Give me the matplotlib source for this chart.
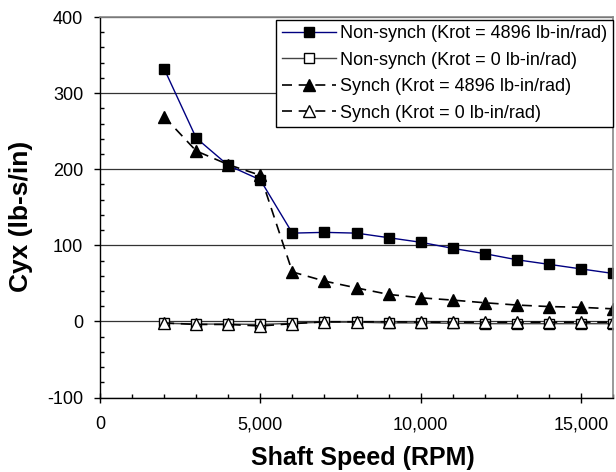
import matplotlib
matplotlib.use('Agg')
import matplotlib.pyplot as plt
from matplotlib.ticker import MultipleLocator, FuncFormatter

plt.rcParams['font.family'] = ['Liberation Sans', 'DejaVu Sans']
plt.rcParams['axes.unicode_minus'] = False

# shaft speed (RPM)
speed = [2000, 3000, 4000, 5000, 6000, 7000, 8000, 9000, 10000,
         11000, 12000, 13000, 14000, 15000, 16000]
# Cyx (lb-s/in)
nonsynch_krot = [332, 241, 205, 186, 116, 117, 116, 110, 104,
                 96, 89, 81, 75, 69, 63]
nonsynch_zero = [-2.5, -3.5, -3.5, -4, -2.5, -1, -1, -2, -2,
                 -2.5, -3, -3, -3, -3, -3]
synch_krot = [269, 224, 206, 192, 65, 53, 44, 35.5, 31,
              28, 24.5, 21.5, 19.5, 18.5, 16.5]
synch_zero = [-2, -4, -4, -6, -3, -0.5, -0.5, -0.5, -1,
              -1, -1, -1, -1, -1, -1]

labels = ['Non-synch (Krot = 4896 lb-in/rad)',
          'Non-synch (Krot = 0 lb-in/rad)',
          'Synch (Krot = 4896 lb-in/rad)',
          'Synch (Krot = 0 lb-in/rad)']

fig = plt.figure(figsize=(6.16, 4.72), dpi=100)
ax = fig.add_axes([100/616, 1-397.5/472, 513/616, 380.5/472])

ax.plot(speed, nonsynch_krot, '-', color='#000080', lw=1.0,
        marker='s', ms=7.5, mfc='black', mec='black', label=labels[0])
ax.plot(speed, nonsynch_zero, '-', color='#444444', lw=1.0,
        marker='s', ms=7.5, mfc='white', mec='black', label=labels[1])
ax.plot(speed, synch_krot, '--', color='black', lw=1.2, dashes=(6, 4),
        marker='^', ms=8, mfc='black', mec='black', label=labels[2])
ax.plot(speed, synch_zero, '--', color='black', lw=1.2, dashes=(6, 4),
        marker='^', ms=8, mfc='white', mec='black', label=labels[3])

ax.set_xlim(0, 16000)
ax.set_ylim(-100, 400)
ax.xaxis.set_major_locator(MultipleLocator(5000))
ax.xaxis.set_minor_locator(MultipleLocator(1000))
ax.yaxis.set_major_locator(MultipleLocator(100))
ax.yaxis.set_minor_locator(MultipleLocator(20))
ax.xaxis.set_major_formatter(FuncFormatter(lambda v, p: f'{int(v):,}'))

ax.tick_params(axis='y', which='major', direction='out', length=4.5, width=1,
               labelsize=13, pad=7.5)
ax.tick_params(axis='y', which='minor', direction='in', length=3, width=1)
ax.tick_params(axis='x', which='major', direction='inout', length=7, width=1,
               labelsize=13, pad=10)
ax.tick_params(axis='x', which='minor', direction='in', length=3, width=1)

ax.yaxis.grid(True, which='major', color='#333333', lw=0.9)
ax.set_axisbelow(True)
for side in ['top', 'right']:
    ax.spines[side].set_color('#888888')
    ax.spines[side].set_linewidth(1.2)
for side in ['left', 'bottom']:
    ax.spines[side].set_color('black')
    ax.spines[side].set_linewidth(1.0)

ax.set_xlabel('Shaft Speed (RPM)', fontsize=18, fontweight='bold')
ax.set_ylabel('Cyx (lb-s/in)', fontsize=19, fontweight='bold')
ax.xaxis.set_label_coords(0.5117, -0.128)
ax.yaxis.set_label_coords(-0.131, 0.4757)

leg = ax.legend(loc='upper right', bbox_to_anchor=(613/616, 1-20/472),
                bbox_transform=fig.transFigure, borderaxespad=0,
                fontsize=13, handlelength=3.0, handletextpad=0.25,
                labelspacing=0.52, borderpad=0.3, fancybox=False,
                framealpha=1, edgecolor='black')
leg.get_frame().set_linewidth(1.0)

plt.savefig('out.png', dpi=100)
plt.close()
